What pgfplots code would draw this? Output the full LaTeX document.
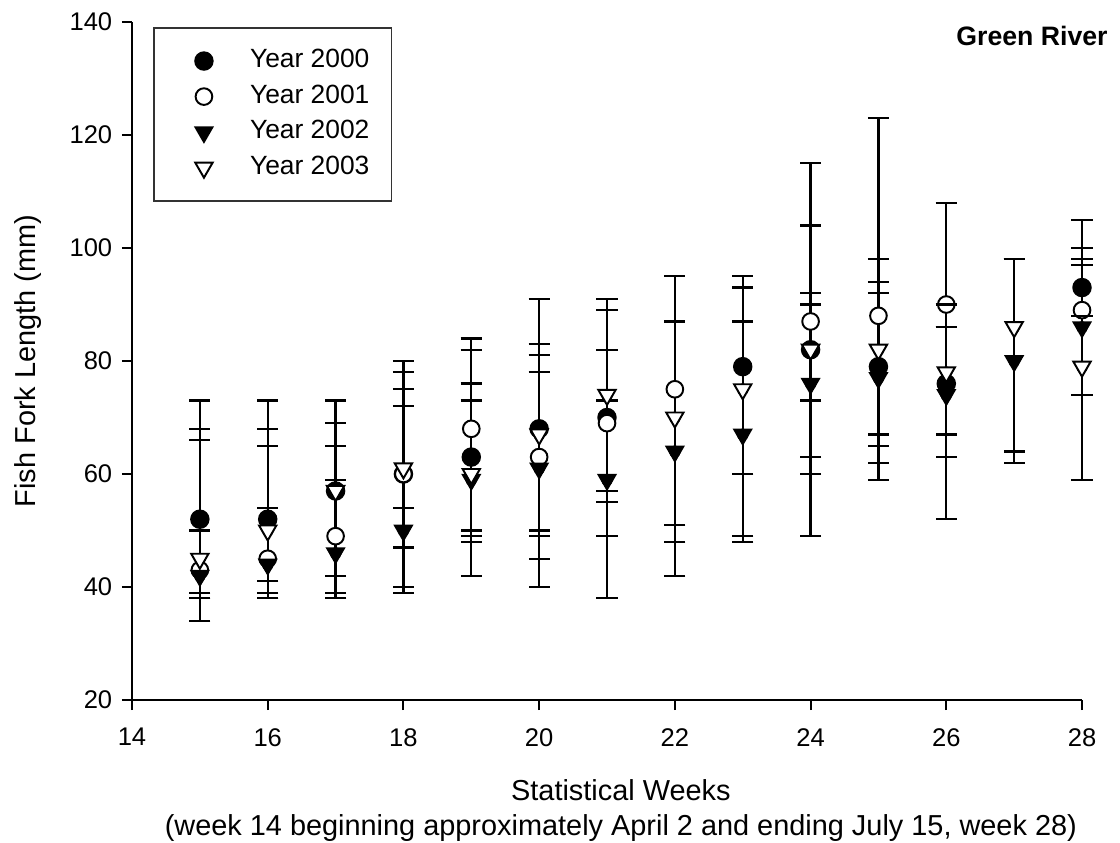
\documentclass[border=0pt]{standalone}
\usepackage{pgfplots}
\pgfplotsset{compat=1.18}
\usepackage{pgfplotstable}
\usepackage{fontspec}
\setmainfont{Liberation Sans}

\pgfplotstableread{
x y ep em
15 52 21 18
16 52 21 14
17 57 16 19
18 60 12 6
19 63 21 15
20 68 23 23
21 70 21 21
23 79 16 19
24 82 22 19
25 79 15 17
26 76 14 13
28 93 12 5
}\dataA
\pgfplotstableread{
x y ep em
15 43 23 5
16 45 20 6
17 49 16 10
18 60 18 20
19 68 14 18
20 63 18 14
21 69 13 14
22 75 20 24
24 87 28 27
25 88 35 29
26 90 18 23
28 89 11 15
}\dataB
\pgfplotstableread{
x y ep em
15 42 8 3
16 44 10 3
17 46 13 4
18 50 25 11
19 59 14 17
20 61 17 21
21 59 14 21
22 64 23 22
23 67 20 19
24 76 14 27
25 77 15 12
26 74 12 22
27 80 18 18
28 86 12 27
}\dataC
\pgfplotstableread{
x y ep em
15 45 23 7
16 50 18 12
17 57 12 19
18 61 19 14
19 60 16 11
20 67 16 17
21 74 15 17
22 70 17 22
23 75 18 26
24 82 10 9
25 82 16 15
26 78 8 11
27 86 12 22
28 79 18 20
}\dataD

\pgfplotsset{
  ebars/.style={forget plot, only marks, mark=none,
    error bars/.cd, y dir=both, y explicit,
    error bar style={black, line width=0.8pt},
    error mark options={black, line width=0.8pt, mark size=3.8pt, rotate=90}},
}

\begin{document}
\begin{tikzpicture}
\useasboundingbox (-47.52pt,-51.12pt) rectangle (355.68pt,252pt);
\begin{axis}[
  at={(0,0)}, anchor=south west,
  scale only axis, width=342pt, height=244.08pt,
  xmin=14, xmax=28, ymin=20, ymax=140,
  xtick={14,16,...,28}, ytick={20,40,...,140},
  axis x line*=bottom, axis y line*=left,
  axis line style={line width=0.7pt},
  tick style={line width=0.7pt, black},
  tick align=outside, major tick length=3.6pt,
  clip=false,
  /pgf/number format/assume math mode=true,
  tick label style={font=\fontsize{9.2}{10}\selectfont},
  xticklabel style={yshift=-3pt},
  ylabel={Fish Fork Length (mm)},
  ylabel style={font=\fontsize{10.4}{12}\selectfont, at={(axis description cs:-0.1095,0.5)}, anchor=center},
  xlabel={Statistical Weeks\\(week 14 beginning approximately April 2 and ending July 15, week 28)},
  xlabel style={font=\fontsize{10.4}{12.6}\selectfont, align=center, at={(axis description cs:0.5,0)}, anchor=north, yshift=-25.2pt, xshift=5pt},
  legend cell align=left,
  legend image code/.code={\draw[#1] plot coordinates {(0pt,0pt)}; \path[draw=none, fill=none] (-10pt,-3pt) rectangle (9pt,3pt);},
  legend style={at={(axis description cs:0,1)}, anchor=north west, xshift=7.6pt, yshift=-1.8pt,
    draw=black!80, line width=0.6pt, inner xsep=8pt, inner ysep=7.6pt,
    column sep=7.6pt, row sep=4.1pt,
    font=\fontsize{9.5}{10}\selectfont,
    nodes={inner sep=0pt, text height=6.7pt, text depth=2pt}},
]
\addplot[ebars] table[x=x, y=y, y error plus=ep, y error minus=em] \dataA;
\addplot[ebars] table[x=x, y=y, y error plus=ep, y error minus=em] \dataB;
\addplot[ebars] table[x=x, y=y, y error plus=ep, y error minus=em] \dataC;
\addplot[ebars] table[x=x, y=y, y error plus=ep, y error minus=em] \dataD;

\addplot[only marks, mark=*, mark size=3.2pt, mark options={draw=black, fill=black, line width=0.6pt}] table[x=x, y=y] \dataA;
\addlegendentry{Year 2000}
\addplot[only marks, mark=*, mark size=3.0pt, mark options={draw=black, fill=white, line width=0.7pt}] table[x=x, y=y] \dataB;
\addlegendentry{Year 2001}
% error-bar caps of Year 2000 that lie on top of the Year 2001 circles
\addplot[forget plot, only marks, mark=-, mark size=3.8pt, mark options={black, line width=0.8pt}] coordinates {(26,90) (28,88)};
\addplot[only marks, mark=triangle*, mark size=3.6pt, mark options={rotate=180, draw=black, fill=black, line width=0.6pt}] table[x=x, y=y] \dataC;
\addlegendentry{Year 2002}
\addplot[only marks, mark=triangle*, mark size=3.6pt, mark options={rotate=180, draw=black, fill=white, line width=0.7pt}] table[x=x, y=y] \dataD;
\addlegendentry{Year 2003}

\node[anchor=east, font=\fontsize{9.6}{10}\selectfont\bfseries, inner sep=0pt] at ([xshift=9.4pt, yshift=-5pt]rel axis cs:1,1) {Green River};
\end{axis}
\end{tikzpicture}
\end{document}
